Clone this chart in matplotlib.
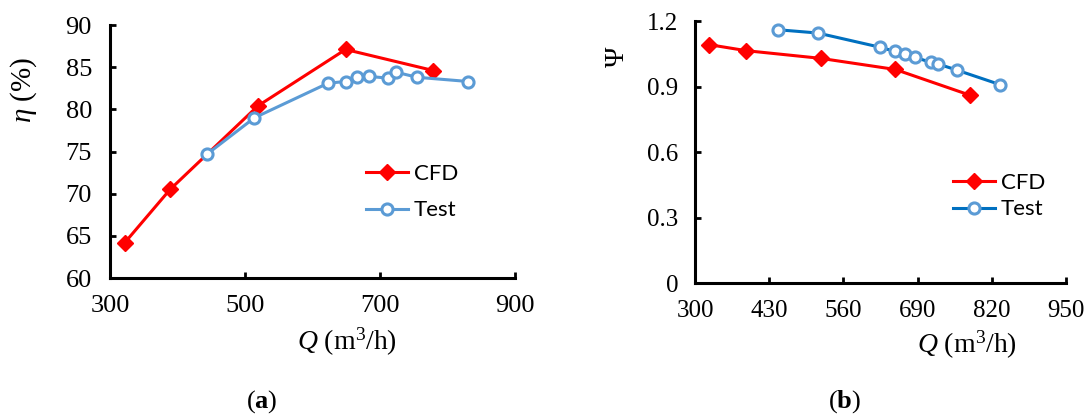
import matplotlib
matplotlib.use("Agg")
import matplotlib.pyplot as plt

plt.rcParams['mathtext.fontset'] = 'custom'
plt.rcParams['mathtext.rm'] = 'Liberation Serif'
plt.rcParams['mathtext.it'] = 'Liberation Serif:italic'
plt.rcParams['mathtext.bf'] = 'Liberation Serif:bold'
plt.rcParams['font.family'] = ['Liberation Serif', 'DejaVu Serif']

# ---- Data: panel (a) efficiency ----
a_cfd_q = [322, 389, 519, 649, 779]
a_cfd_eta = [64.2, 70.5, 80.4, 87.1, 84.6]
a_test_q = [444, 514, 623, 649, 666, 684, 712, 724, 755, 831]
a_test_eta = [74.7, 79.0, 83.1, 83.3, 83.8, 83.9, 83.7, 84.4, 83.8, 83.3]
a_xticks = [300, 500, 700, 900]
a_yticks = [60, 65, 70, 75, 80, 85, 90]

# ---- Data: panel (b) head coefficient ----
b_cfd_q = [324, 390, 520, 651, 782]
b_cfd_psi = [1.092, 1.064, 1.029, 0.978, 0.860]
b_test_q = [445, 515, 624, 650, 668, 686, 713, 726, 759, 834]
b_test_psi = [1.160, 1.145, 1.080, 1.061, 1.048, 1.034, 1.010, 1.003, 0.975, 0.909]
b_xticks = [300, 430, 560, 690, 820, 950]
b_yticks = [0, 0.3, 0.6, 0.9, 1.2]
b_yticklabels = ["0", "0.3", "0.6", "0.9", "1.2"]

RED = "#FF0000"
LBLUE = "#5B9BD5"
DBLUE = "#0070C0"
SERIF = "Liberation Serif"

W, H = 1086, 419
fig = plt.figure(figsize=(W / 100, H / 100), dpi=100)

def px_axes(x0, x1, ytop, ybot):
    return fig.add_axes([x0 / W, (H - ybot) / H, (x1 - x0) / W, (ybot - ytop) / H])

def style(ax, pad_x, pad_y, size):
    for s in ("top", "right"):
        ax.spines[s].set_visible(False)
    for s in ("left", "bottom"):
        ax.spines[s].set_linewidth(2.2)
    ax.tick_params(axis="both", direction="in", length=4, width=2.0, labelsize=size,
                   labelfontfamily=SERIF)
    ax.tick_params(axis="x", pad=pad_x)
    ax.tick_params(axis="y", pad=pad_y)

# ---------- Panel (a) ----------
ax1 = px_axes(110, 515, 25, 278)
ax1.plot(a_cfd_q, a_cfd_eta, color=RED, lw=2.2, marker="D", ms=8,
         mfc=RED, mec=RED, label="CFD", clip_on=False, zorder=3)
ax1.plot(a_test_q, a_test_eta, color=LBLUE, lw=2.2, marker="o", ms=8,
         mfc="white", mec=LBLUE, mew=2.2, label="Test", clip_on=False, zorder=4)
ax1.set_xlim(300, 900)
ax1.set_ylim(60, 90)
ax1.set_xticks(a_xticks)
ax1.set_yticks(a_yticks)
style(ax1, 12, 13, 19)
ax1.legend(loc="center left", bbox_to_anchor=(366 / W, (H - 192) / H),
           bbox_transform=fig.transFigure, frameon=False,
           prop={"family": "Lato", "size": 16}, handlelength=1.9,
           handletextpad=0.25, labelspacing=0.75, borderpad=0, borderaxespad=0)

# ---------- Panel (b) ----------
ax2 = px_axes(695, 1066, 21, 283)
ax2.plot(b_cfd_q, b_cfd_psi, color=RED, lw=2.2, marker="D", ms=8,
         mfc=RED, mec=RED, label="CFD", clip_on=False, zorder=3)
ax2.plot(b_test_q, b_test_psi, color=DBLUE, lw=2.2, marker="o", ms=8,
         mfc="white", mec=LBLUE, mew=2.2, label="Test", clip_on=False, zorder=4)
ax2.set_xlim(300, 950)
ax2.set_ylim(0, 1.2)
ax2.set_xticks(b_xticks)
ax2.set_yticks(b_yticks)
ax2.set_yticklabels(b_yticklabels)
style(ax2, 12, 12, 18)
ax2.legend(loc="center left", bbox_to_anchor=(953 / W, (H - 196) / H),
           bbox_transform=fig.transFigure, frameon=False,
           prop={"family": "Lato", "size": 16}, handlelength=1.9,
           handletextpad=0.25, labelspacing=0.3, borderpad=0, borderaxespad=0)

# ---------- Axis labels ----------
fig.text(24 / W, (H - 90) / H, r"$\it{\eta}$ (%)", rotation=90, ha="center", va="center",
         fontsize=21, family=SERIF)
fig.text(347 / W, (H - 342) / H, r"$\it{Q}$ (m$^3$/h)", ha="center", va="center",
         fontsize=20, family=SERIF)
fig.text(617 / W, (H - 57) / H, "Ψ", rotation=90, ha="center", va="center",
         fontsize=20, family=SERIF)
fig.text(967 / W, (H - 345) / H, r"$\it{Q}$ (m$^3$/h)", ha="center", va="center",
         fontsize=20, family=SERIF)

# ---------- Captions ----------
fig.text(262 / W, (H - 402) / H, r"($\mathbf{a}$)", ha="center", va="center", fontsize=19,
         family=SERIF)
fig.text(845 / W, (H - 402) / H, r"($\mathbf{b}$)", ha="center", va="center", fontsize=19,
         family=SERIF)

fig.savefig("out.png", dpi=100)
